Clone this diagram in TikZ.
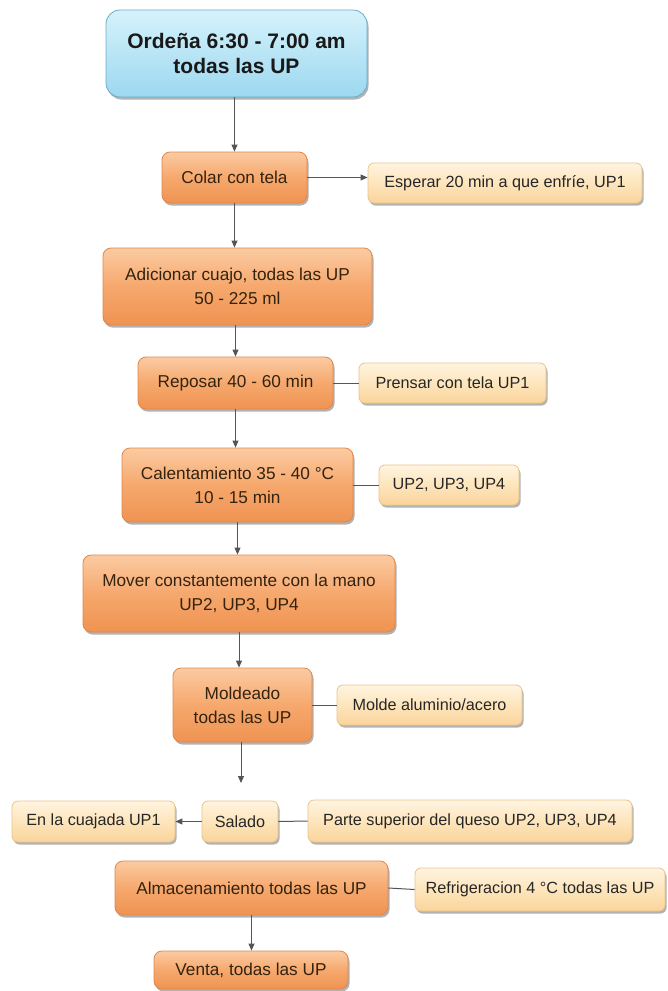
\documentclass[tikz,border=0pt]{standalone}
\usepackage{fontspec}
\setmainfont{Liberation Sans}
\usetikzlibrary{shadows,arrows.meta}
\definecolor{orTop}{HTML}{FBCBA2}
\definecolor{orMid}{HTML}{F6A86D}
\definecolor{orBot}{HTML}{EF9352}
\definecolor{orLine}{HTML}{E0874A}
\definecolor{orText}{HTML}{33230F}
\definecolor{crTop}{HTML}{FFF4E0}
\definecolor{crMid}{HTML}{FDE5BC}
\definecolor{crBot}{HTML}{FAD49B}
\definecolor{crLine}{HTML}{EAC48A}
\definecolor{blTop}{HTML}{D6F2FB}
\definecolor{blBot}{HTML}{9CD8F0}
\definecolor{blLine}{HTML}{6FA9C6}
\definecolor{lineC}{HTML}{555555}
\tikzset{
  base/.style={rounded corners=8pt, align=center, inner sep=0pt,
    font=\fontsize{16.2}{23}\selectfont,
    drop shadow={shadow xshift=1.5pt, shadow yshift=-2.5pt, opacity=0.3, fill=black}},
  orbox/.style={base, draw=orLine, line width=0.8pt, top color=orTop, bottom color=orBot, middle color=orMid, text=orText,
    font=\fontsize{17.2}{24}\selectfont},
  crbox/.style={base, rounded corners=6pt, draw=crLine, line width=0.8pt, top color=crTop, bottom color=crBot, middle color=crMid, text=black!85},
  blbox/.style={base, rounded corners=14pt, draw=blLine, line width=0.8pt, top color=blTop, bottom color=blBot, text=black!90,
    font=\fontsize{21}{25}\selectfont\bfseries},
  conn/.style={draw=lineC, line width=1pt},
  arr/.style={conn, -{Triangle[length=7pt,width=6pt]}}
}
\begin{document}
\begin{tikzpicture}[x=1pt,y=-1pt]
\useasboundingbox (0,0) rectangle (667,991);
\node[blbox, minimum width=261pt, minimum height=87pt] (orden) at (236.5,53.5) {Ordeña 6:30 - 7:00 am\\todas las UP};
\node[orbox, minimum width=145pt, minimum height=51pt] (colar) at (234.5,177.5) {Colar con tela};
\node[crbox, minimum width=274pt, minimum height=40pt] (esperar) at (505,183) {Esperar 20 min a que enfríe, UP1};
\node[orbox, minimum width=269pt, minimum height=77pt] (adic) at (237.5,286.5) {Adicionar cuajo, todas las UP\\50 - 225 ml};
\node[orbox, minimum width=195pt, minimum height=52pt] (repos) at (235.5,383) {Reposar 40 - 60 min};
\node[crbox, minimum width=187pt, minimum height=40pt] (prensar) at (452.5,383) {Prensar con tela UP1};
\node[orbox, minimum width=231pt, minimum height=74pt] (calen) at (237.5,485) {Calentamiento 35 - 40 °C\\10 - 15 min};
\node[crbox, minimum width=140pt, minimum height=40pt] (upc) at (449,485) {UP2, UP3, UP4};
\node[orbox, minimum width=312pt, minimum height=77pt] (mover) at (239,593.5) {Mover constantemente con la mano\\UP2, UP3, UP4};
\node[orbox, minimum width=139pt, minimum height=74pt] (molde) at (242.5,705) {Moldeado\\todas las UP};
\node[crbox, minimum width=185pt, minimum height=40pt] (moldebox) at (429.5,705) {Molde aluminio/acero};
\coordinate (saladoin) at (241,783);
\node[crbox, minimum width=163pt, minimum height=41pt] (cuaj) at (93.5,821.5) {En la cuajada UP1};
\node[crbox, minimum width=76pt, minimum height=41pt] (salado) at (240,821.5) {Salado};
\node[crbox, minimum width=324pt, minimum height=42pt] (parte) at (470,821) {Parte superior del queso UP2, UP3, UP4};
\node[orbox, minimum width=273pt, minimum height=54pt] (almac) at (251.5,888) {Almacenamiento todas las UP};
\node[crbox, minimum width=250pt, minimum height=43pt] (refrig) at (540,889.5) {Refrigeracion 4 °C todas las UP};
\node[orbox, minimum width=194pt, minimum height=38pt] (venta) at (251,970) {Venta, todas las UP};

\draw[arr] (orden.south -| colar) -- (colar.north);
\draw[arr] (colar.east) -- (colar.east -| esperar.west);
\draw[arr] (colar.south) -- (colar.south |- adic.north);
\draw[arr] (adic.south -| repos) -- (repos.north);
\draw[conn] (repos.east) -- (prensar.west);
\draw[arr] (repos.south) -- (repos.south |- calen.north);
\draw[conn] (calen.east) -- (upc.west);
\draw[arr] (calen.south) -- (calen.south |- mover.north);
\draw[arr] (mover.south) -- (mover.south |- molde.north);
\draw[conn] (molde.east) -- (moldebox.west);
\draw[arr] (molde.south -| saladoin) -- (saladoin);
\draw[arr] (salado.west) -- (cuaj.east);
\draw[conn] (parte.west) -- (salado.east);
\draw[conn] (almac.east) -- (refrig.west);
\draw[arr] (almac.south) -- (almac.south |- venta.north);
\end{tikzpicture}
\end{document}
